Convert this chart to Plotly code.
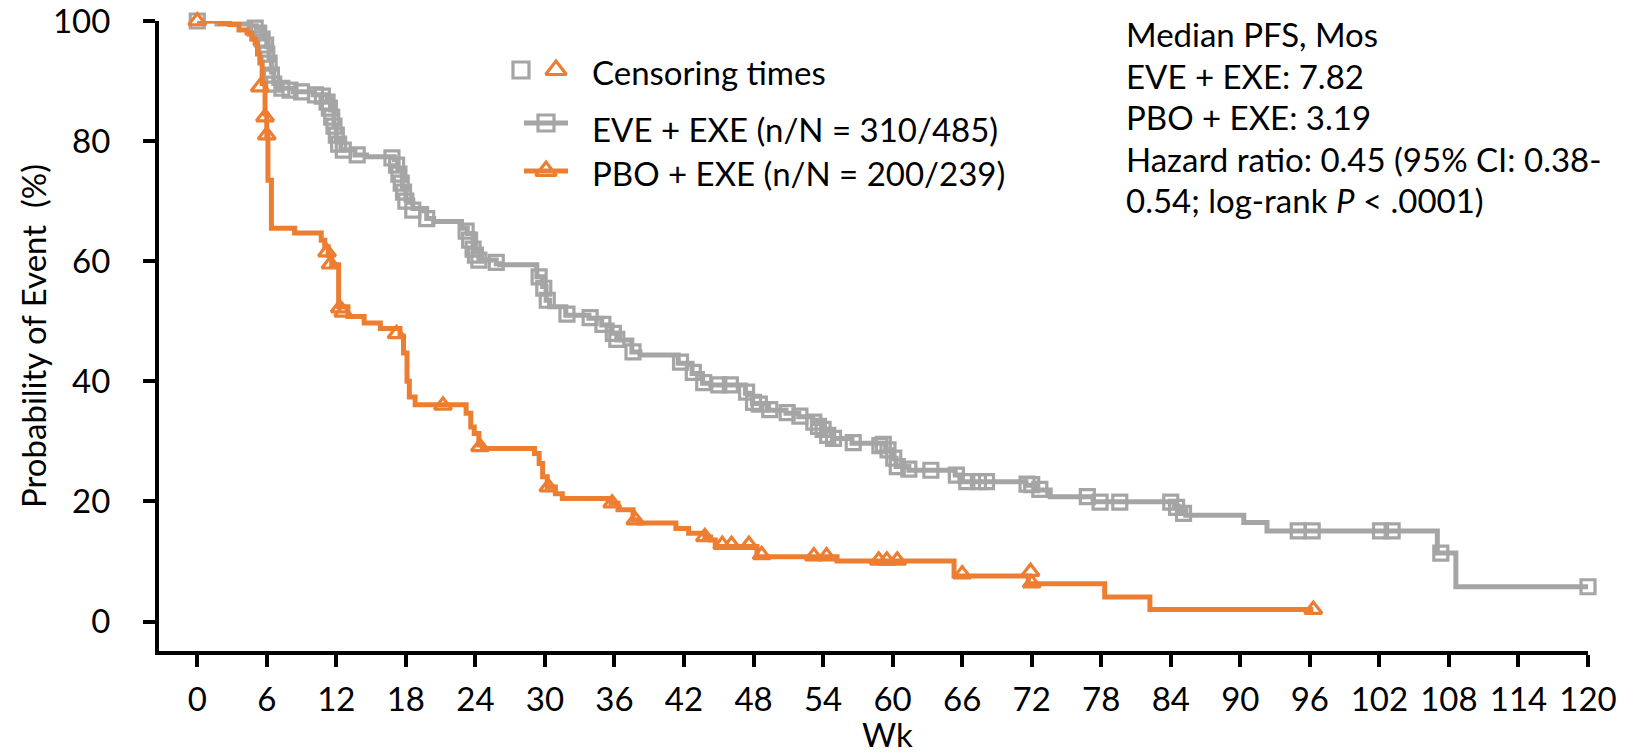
import plotly.graph_objects as go

# ---------------- data ----------------
eve_wk = [0, 1.7, 4.6, 5.1, 5.6, 6.0, 6.2, 6.4, 6.6, 6.9, 8.3, 10.0, 11.2, 11.5, 11.8, 12.0, 12.4,
          13.6, 14.6, 17.0, 17.3, 17.7, 18.0, 18.6, 19.8, 20.4, 22.8, 23.3, 23.8, 24.3, 25.8, 26.1,
          29.3, 29.8, 30.1, 30.4, 31.8, 33.8, 34.9, 35.8, 36.2, 37.5, 38.2, 41.5, 42.7, 43.6, 44.3,
          47.3, 47.9, 49.3, 50.8, 51.9, 53.1, 53.9, 54.8, 56.5, 59.4, 59.9, 60.3, 61.4, 65.4, 65.8,
          71.5, 72.5, 73.6, 77.3, 84.3, 84.7, 85.3, 90.3, 92.3, 107.0, 108.6, 120]
eve_pct = [100, 99.5, 99.2, 98.8, 97.4, 95.7, 93.5, 91.5, 89.6, 88.8, 88.2, 87.7, 87.0, 85.2, 82.4, 80.2, 78.5,
           77.7, 77.4, 76.9, 75.2, 72.4, 70.2, 68.8, 67.1, 66.6, 65.5, 64.6, 61.9, 60.2, 59.6, 59.4,
           57.4, 55.8, 53.5, 52.4, 51.0, 50.5, 49.4, 48.0, 46.9, 44.9, 44.4, 43.0, 41.3, 39.7, 39.4,
           38.0, 36.3, 35.2, 34.7, 34.1, 33.0, 31.9, 30.5, 29.7, 28.6, 27.2, 25.8, 25.2, 24.4, 23.3,
           22.7, 21.9, 20.8, 19.95, 19.2, 18.5, 17.7, 16.5, 15.1, 11.4, 5.8, 5.8]

eve_cens_wk = [0, 5.0, 5.3, 5.6, 5.9, 6.0, 6.2, 6.4, 6.6, 7.3, 8.0, 9.0, 10.2, 10.8, 11.2, 11.4, 11.6,
               11.8, 12.0, 12.2, 12.6, 13.8, 16.8, 17.2, 17.4, 17.6, 17.8, 18.0, 18.6, 19.8, 23.2, 23.5,
               23.8, 24.0, 24.3, 25.8, 29.5, 29.9, 30.2, 31.9, 33.9, 35.0, 35.9, 36.2, 37.6, 41.7, 42.8,
               43.7, 45.0, 46.0, 47.4, 48.0, 48.5, 49.4, 50.9, 52.0, 53.2, 53.6, 54.0, 54.4, 54.9, 56.6,
               58.9, 59.2, 59.6, 60.1, 60.4, 61.4, 63.3, 65.5, 66.4, 67.4, 68.1, 71.6, 72.0, 72.7, 76.8,
               77.9, 79.6, 84.0, 84.5, 85.1, 95.0, 96.2, 102.1, 103.1, 107.3, 120]
eve_cens_pct = [100, 98.8, 98.0, 97.0, 96.0, 94.5, 93.0, 91.0, 89.5, 88.8, 88.5, 88.2, 87.7, 87.5, 86.5, 85.5, 84.0,
                82.5, 81.0, 79.5, 78.5, 77.7, 77.2, 76.0, 74.5, 73.0, 71.5, 70.0, 68.5, 67.1, 65.0, 63.5,
                62.0, 61.0, 60.2, 59.8, 57.4, 55.5, 53.5, 51.2, 50.6, 49.5, 48.0, 47.0, 44.9, 43.2, 41.5,
                39.8, 39.4, 39.4, 38.2, 36.5, 36.2, 35.3, 34.8, 34.2, 33.2, 32.5, 32.0, 31.0, 30.5, 29.8,
                29.3, 29.5, 28.6, 27.2, 25.8, 25.4, 25.2, 24.4, 23.3, 23.3, 23.3, 22.9, 22.8, 22.0, 20.8,
                19.9, 19.9, 19.9, 19.0, 18.0, 15.1, 15.1, 15.1, 15.1, 11.4, 5.8]

pbo_wk = [0, 2.0, 2.8, 3.6, 4.3, 4.7, 5.0, 5.2, 5.4, 5.6, 5.85, 6.0, 6.1, 6.4, 8.4, 10.7, 11.0, 11.3,
          11.6, 12.2, 13.0, 14.4, 15.8, 17.5, 17.8, 18.1, 18.3, 18.8, 23.2, 23.6, 23.9, 24.3, 24.6,
          29.1, 29.5, 29.8, 30.2, 30.9, 31.5, 35.7, 36.3, 37.6, 38.1, 41.3, 42.4, 43.8, 44.3, 44.7,
          48.3, 55.2, 65.3, 71.7, 78.3, 82.2, 96.3]
pbo_pct = [100, 99.6, 99.4, 98.5, 98.0, 97.0, 96.3, 94.5, 93.0, 89.6, 84.5, 81.0, 73.5, 65.5, 64.7, 63.5, 62.4, 61.0,
           59.4, 52.4, 50.8, 49.7, 48.8, 47.5, 44.7, 40.0, 37.4, 36.1, 34.7, 32.4, 31.3, 29.4, 28.8,
           28.0, 26.3, 24.1, 22.4, 21.3, 20.5, 19.7, 18.6, 16.9, 16.4, 15.5, 14.7, 14.1, 13.6, 12.5,
           10.8, 10.1, 7.6, 6.3, 4.1, 2.0, 2.0]

pbo_cens_wk = [0, 5.4, 5.85, 6.0, 11.2, 11.5, 12.3, 12.6, 17.2, 21.2, 24.4, 30.3, 35.8, 37.8, 43.8,
               45.3, 46.1, 47.6, 48.7, 53.2, 54.3, 58.8, 59.5, 60.4, 66.0, 71.9, 72.0, 96.3]
pbo_cens_pct = [100, 89.0, 84.0, 81.0, 61.5, 59.5, 52.2, 51.5, 47.9, 36.0, 29.1, 22.4, 19.7, 16.9, 14.1,
                12.8, 12.8, 12.8, 11.1, 10.9, 10.9, 10.2, 10.2, 10.2, 7.9, 8.3, 6.4, 2.0]

x_ticks = list(range(0, 121, 6))
y_ticks = [0, 20, 40, 60, 80, 100]

legend_labels = ["Censoring times", "EVE + EXE (n/N = 310/485)", "PBO + EXE (n/N = 200/239)"]
stats_lines = ["Median PFS, Mos", "EVE + EXE: 7.82", "PBO + EXE: 3.19",
               "Hazard ratio: 0.45 (95% CI: 0.38-", "0.54; log-rank <i>P</i> < .0001)"]
x_title = "Wk"
y_title = "Probability of Event&nbsp; (%)"

# ---------------- style ----------------
GRAY = "#A5A5A5"
ORANGE = "#ED7D31"
FONT = "Lato"
FS = 33
LW = 5
MLW = 3.2

L, R, T, B = 159, 39, 21, 105
PW, PH = 1627 - L - R, 756 - T - B


def fx(px):
    return (px - L) / PW


def fy(py):
    return (756 - B - py) / PH


fig = go.Figure()

fig.add_trace(go.Scatter(x=eve_wk, y=eve_pct, mode="lines", line=dict(color=GRAY, width=LW, shape="hv"),
                         showlegend=False, hoverinfo="skip", cliponaxis=False))
fig.add_trace(go.Scatter(x=eve_cens_wk, y=eve_cens_pct, mode="markers",
                         marker=dict(symbol="square-open", size=14, color=GRAY, line=dict(width=MLW, color=GRAY)),
                         showlegend=False, cliponaxis=False))
fig.add_trace(go.Scatter(x=pbo_wk, y=pbo_pct, mode="lines", line=dict(color=ORANGE, width=LW, shape="hv"),
                         showlegend=False, hoverinfo="skip", cliponaxis=False))
fig.add_trace(go.Scatter(x=pbo_cens_wk, y=pbo_cens_pct, mode="markers",
                         marker=dict(symbol="triangle-up-open", size=15, color=ORANGE, line=dict(width=MLW, color=ORANGE)),
                         showlegend=False, cliponaxis=False))

# legend drawn on an overlay axis spanning the plot area (fractions 0..1)
row_y = [fy(70), fy(123), fy(171)]
sq_x, tri_x = fx(521), fx(556)
ln0, ln1, mid = fx(524), fx(568), fx(546)
fig.add_trace(go.Scatter(x=[sq_x], y=[row_y[0]], xaxis="x2", yaxis="y2", mode="markers",
                         marker=dict(symbol="square-open", size=16, color=GRAY, line=dict(width=MLW, color=GRAY)),
                         showlegend=False, hoverinfo="skip"))
fig.add_trace(go.Scatter(x=[tri_x], y=[row_y[0]], xaxis="x2", yaxis="y2", mode="markers",
                         marker=dict(symbol="triangle-up-open", size=18, color=ORANGE, line=dict(width=MLW, color=ORANGE)),
                         showlegend=False, hoverinfo="skip"))
fig.add_trace(go.Scatter(x=[ln0, ln1], y=[row_y[1], row_y[1]], xaxis="x2", yaxis="y2",
                         mode="lines", line=dict(color=GRAY, width=LW), showlegend=False, hoverinfo="skip"))
fig.add_trace(go.Scatter(x=[mid], y=[row_y[1]], xaxis="x2", yaxis="y2", mode="markers",
                         marker=dict(symbol="square-open", size=16, color=GRAY, line=dict(width=MLW, color=GRAY)),
                         showlegend=False, hoverinfo="skip"))
fig.add_trace(go.Scatter(x=[ln0, ln1], y=[row_y[2], row_y[2]], xaxis="x2", yaxis="y2",
                         mode="lines", line=dict(color=ORANGE, width=LW), showlegend=False, hoverinfo="skip"))
fig.add_trace(go.Scatter(x=[mid], y=[row_y[2]], xaxis="x2", yaxis="y2", mode="markers",
                         marker=dict(symbol="triangle-up-open", size=18, color=ORANGE, line=dict(width=MLW, color=ORANGE)),
                         showlegend=False, hoverinfo="skip"))

annotations = []
for lab, ypx in zip(legend_labels, [72, 129, 173]):
    annotations.append(dict(x=fx(590), y=fy(ypx), xref="paper", yref="paper", text=lab, showarrow=False,
                            xanchor="left", yanchor="middle", font=dict(family=FONT, size=FS, color="black")))
for line, ypx in zip(stats_lines, [34, 76, 117, 159, 200]):
    annotations.append(dict(x=fx(1124), y=fy(ypx), xref="paper", yref="paper", text=line,
                            showarrow=False, xanchor="left", yanchor="middle",
                            font=dict(family=FONT, size=FS, color="black")))
annotations.append(dict(x=fx(887), y=fy(756), xref="paper", yref="paper", text=x_title,
                        showarrow=False, xanchor="center", yanchor="bottom",
                        font=dict(family=FONT, size=FS, color="black")))
annotations.append(dict(x=fx(33), y=fy(336), xref="paper", yref="paper",
                        text=y_title, textangle=-90, showarrow=False,
                        xanchor="center", yanchor="middle", font=dict(family=FONT, size=FS, color="black")))

fig.update_layout(
    width=1627, height=756,
    margin=dict(l=L, r=R, t=T, b=B, pad=0, autoexpand=False),
    paper_bgcolor="white", plot_bgcolor="white",
    font=dict(family=FONT, size=FS, color="black"),
    annotations=annotations,
    xaxis=dict(range=[-3.3, 120], tickvals=x_ticks, ticktext=[str(v) for v in x_ticks],
               showline=True, linecolor="black", linewidth=4, ticks="outside", ticklen=12, tickwidth=4,
               tickcolor="black", showgrid=False, zeroline=False, ticklabelstandoff=4, automargin=False,
               ticklabeloverflow="allow", tickfont=dict(family=FONT, size=FS)),
    yaxis=dict(range=[-4.9, 100], tickvals=y_ticks, ticktext=[str(v) for v in y_ticks],
               showline=True, linecolor="black", linewidth=4, ticks="outside", ticklen=12, tickwidth=4,
               tickcolor="black", showgrid=False, zeroline=False, ticklabelstandoff=26, automargin=False,
               ticklabeloverflow="allow", tickfont=dict(family=FONT, size=FS)),
    xaxis2=dict(range=[0, 1], overlaying="x", visible=False, fixedrange=True),
    yaxis2=dict(range=[0, 1], overlaying="y", visible=False, fixedrange=True),
)

fig.write_html("out.html")
